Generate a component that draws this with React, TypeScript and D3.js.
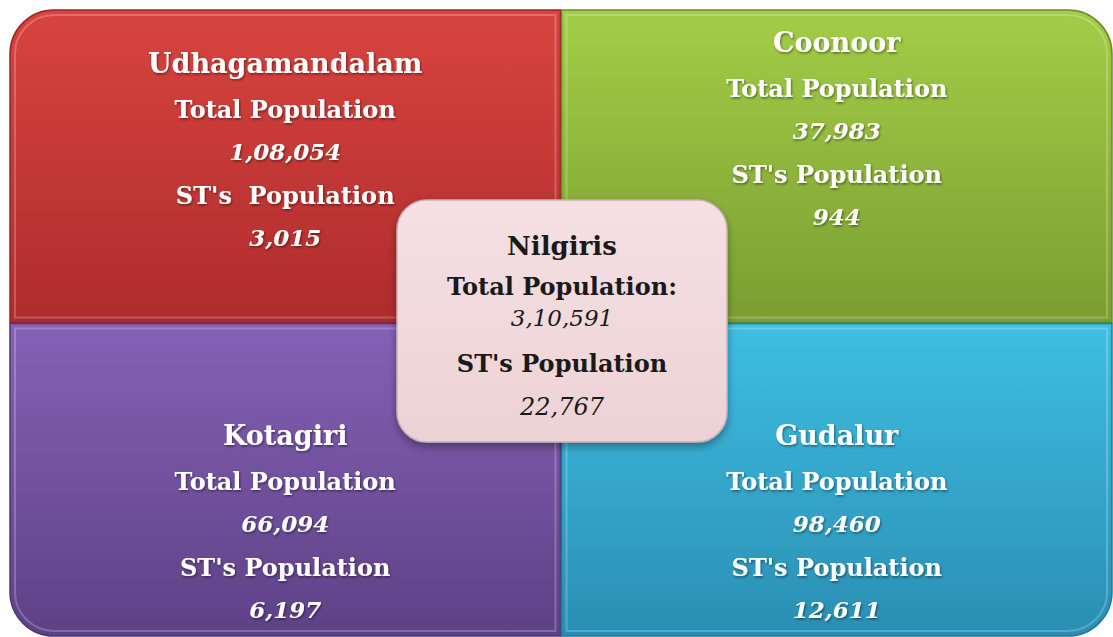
import React from 'react'
import * as d3 from 'd3'

// Nilgiris district data
const districts = ['Udhagamandalam', 'Coonoor', 'Kotagiri', 'Gudalur']
const totalPopulation = [108054, 37983, 66094, 98460]
const stPopulation = [3015, 944, 6197, 12611]
const stLabels = ["ST's  Population", "ST's Population", "ST's Population", "ST's Population"]
const centerName = 'Nilgiris'
const centerTotal = 310591
const centerST = 22767

const W = 1113
const H = 637
const FONT = '"DejaVu Serif", "Liberation Serif", serif'

// gradient colours per quadrant (top, bottom, edge)
const colours = [
  ['#d8443f', '#ae2c2c', '#9a2424'],
  ['#a3cd47', '#7c9d31', '#6c8a2a'],
  ['#8661b6', '#5d4186', '#4f3774'],
  ['#3ebfe3', '#2a8eb2', '#227a99']
]

// Indian digit grouping: 1,08,054
const fmt = (n: number) => {
  const s = String(n)
  if (s.length <= 3) return s
  const last = s.slice(-3)
  let rest = s.slice(0, -3)
  const parts: string[] = []
  while (rest.length > 2) {
    parts.unshift(rest.slice(-2))
    rest = rest.slice(0, -2)
  }
  if (rest) parts.unshift(rest)
  return parts.join(',') + ',' + last
}

const roundRect = (x0: number, y0: number, x1: number, y1: number, r: number[]) => {
  const [tl, tr, br, bl] = r
  const p = d3.path()
  p.moveTo(x0 + tl, y0)
  p.lineTo(x1 - tr, y0)
  p.arcTo(x1, y0, x1, y0 + tr, tr)
  p.lineTo(x1, y1 - br)
  p.arcTo(x1, y1, x1 - br, y1, br)
  p.lineTo(x0 + bl, y1)
  p.arcTo(x0, y1, x0, y1 - bl, bl)
  p.lineTo(x0, y0 + tl)
  p.arcTo(x0, y0, x0 + tl, y0, tl)
  p.closePath()
  return p.toString()
}

export default function App () {
  const col = d3.scaleBand<number>().domain([0, 1]).range([10, 1112]).paddingInner(0.002)
  const row = d3.scaleBand<number>().domain([0, 1]).range([10, 636]).paddingInner(0.003)

  const R = 44
  const cornerOf = [
    [R, 0, 0, 0],
    [0, R, 0, 0],
    [0, 0, 0, R],
    [0, 0, R, 0]
  ]
  // baseline of first text line in each quadrant, then line steps
  const firstLine = [73, 52, 445, 445]
  const steps = [0, 45, 87, 131, 173]

  const cx0 = 397, cx1 = 727, cy0 = 200, cy1 = 442
  const cmid = (cx0 + cx1) / 2

  return (
    <svg width={W} height={H} style={{ position: 'absolute', left: 0, top: 0, background: '#fff' }}>
      <defs>
        {colours.map((c, i) => (
          <linearGradient key={i} id={`g${i}`} x1='0' y1='0' x2='0' y2='1'>
            <stop offset='0%' stopColor={c[0]} />
            <stop offset='100%' stopColor={c[1]} />
          </linearGradient>
        ))}
        <linearGradient id='gc' x1='0' y1='0' x2='0' y2='1'>
          <stop offset='0%' stopColor='#f5e0e3' />
          <stop offset='100%' stopColor='#edd2d5' />
        </linearGradient>
        <filter id='ts' x='-10%' y='-30%' width='120%' height='160%'>
          <feDropShadow dx='1' dy='1.5' stdDeviation='1' floodColor='#000' floodOpacity='0.45' />
        </filter>
        <filter id='bs' x='-10%' y='-10%' width='120%' height='130%'>
          <feDropShadow dx='0' dy='4' stdDeviation='4' floodColor='#000' floodOpacity='0.35' />
        </filter>
      </defs>

      {districts.map((d, i) => {
        const c = i % 2
        const r = Math.floor(i / 2)
        const x0 = col(c)!
        const x1 = x0 + col.bandwidth()
        const y0 = row(r)!
        const y1 = y0 + row.bandwidth()
        const xm = (x0 + x1) / 2
        const y = firstLine[i]
        const inner = cornerOf[i].map(v => (v ? v - 5 : 0))
        const lines = [
          { t: d, size: 27, italic: false },
          { t: 'Total Population', size: 24, italic: false },
          { t: fmt(totalPopulation[i]), size: 23, italic: true },
          { t: stLabels[i], size: 24, italic: false },
          { t: fmt(stPopulation[i]), size: 23, italic: true }
        ]
        return (
          <g key={d}>
            <path d={roundRect(x0, y0, x1, y1, cornerOf[i])} fill={`url(#g${i})`} stroke={colours[i][2]} strokeWidth={1.5} />
            <path d={roundRect(x0 + 5, y0 + 5, x1 - 5, y1 - 5, inner)} fill='none' stroke='#fff' strokeOpacity={0.22} strokeWidth={2} />
            {lines.map((l, j) => (
              <text key={j} x={xm} y={y + steps[j]} textAnchor='middle' fill='#fff'
                fontFamily={FONT} fontWeight='bold' fontSize={l.size}
                fontStyle={l.italic ? 'italic' : 'normal'}
                style={{ whiteSpace: 'pre' }} filter='url(#ts)'>{l.t}</text>
            ))}
          </g>
        )
      })}

      <g>
        <path d={roundRect(cx0, cy0, cx1, cy1, [30, 30, 30, 30])} fill='url(#gc)' stroke='#c9b1b4' strokeWidth={1.5} filter='url(#bs)' />
        <text x={cmid} y={255} textAnchor='middle' fill='#1a1a1a' fontFamily={FONT} fontWeight='bold' fontSize={26}>{centerName}</text>
        <text x={cmid} y={295} textAnchor='middle' fill='#1a1a1a' fontFamily={FONT} fontWeight='bold' fontSize={24}>Total Population:</text>
        <text x={cmid} y={326} textAnchor='middle' fill='#1a1a1a' fontFamily={FONT} fontStyle='italic' fontSize={23}>{fmt(centerTotal)}</text>
        <text x={cmid} y={372} textAnchor='middle' fill='#1a1a1a' fontFamily={FONT} fontWeight='bold' fontSize={24}>ST's Population</text>
        <text x={cmid} y={415} textAnchor='middle' fill='#1a1a1a' fontFamily={FONT} fontStyle='italic' fontSize={24}>{fmt(centerST)}</text>
      </g>
    </svg>
  )
}
